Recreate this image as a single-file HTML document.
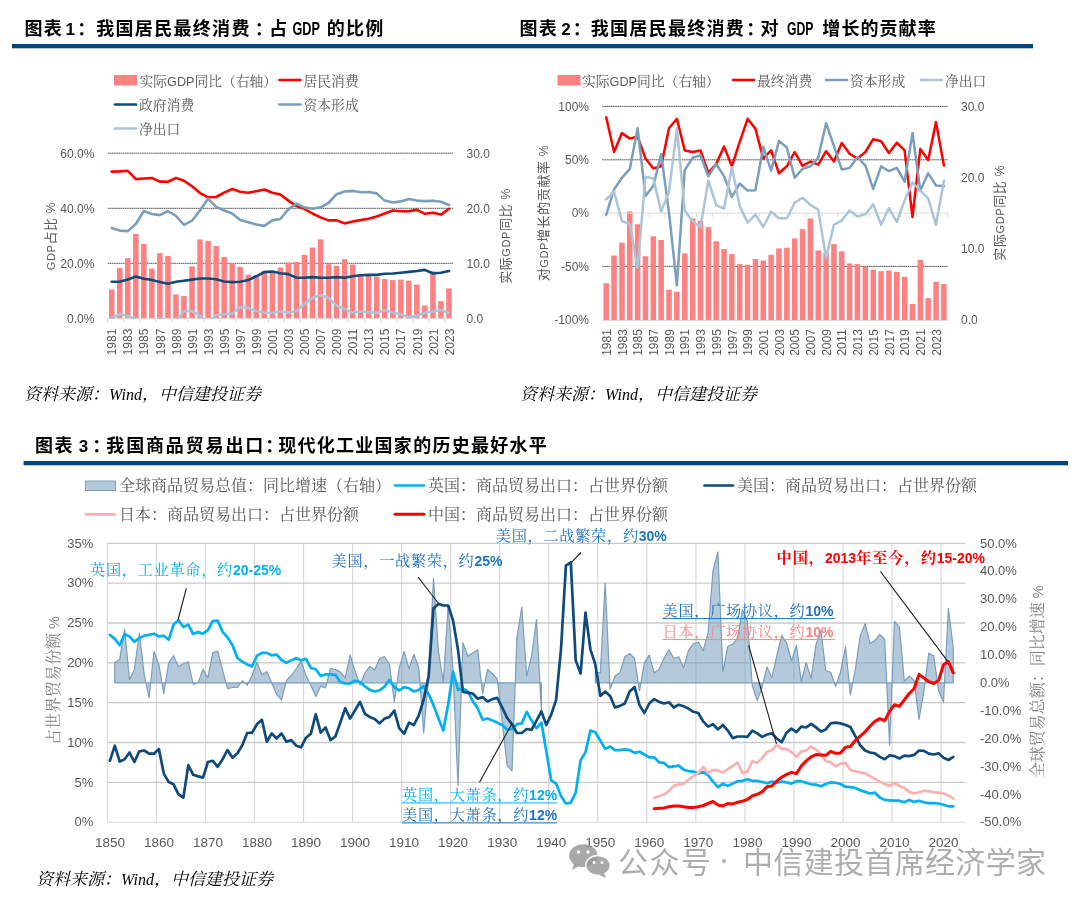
<!DOCTYPE html>
<html lang="zh-CN"><head><meta charset="utf-8"><title>图表</title>
<style>html,body{margin:0;padding:0;background:#fff;overflow:hidden;}svg{display:block;}</style></head>
<body><svg width="1080" height="905" viewBox="0 0 1080 905">
<rect width="1080" height="905" fill="#fff"/>
<text x="24.6" y="35.3" font-size="18" font-weight="bold" fill="#000" font-family="'Liberation Sans', 'Noto Sans CJK SC', sans-serif" textLength="37.2" lengthAdjust="spacing">图表</text>
<text x="65.6" y="35.3" font-size="17" font-weight="bold" fill="#000" font-family="'Liberation Sans', 'Noto Sans CJK SC', sans-serif">1</text>
<text x="77.3" y="35.3" font-size="18" font-weight="bold" fill="#000" font-family="'Liberation Sans', 'Noto Sans CJK SC', sans-serif">：</text>
<text x="96.2" y="35.3" font-size="18" font-weight="bold" fill="#000" font-family="'Liberation Sans', 'Noto Sans CJK SC', sans-serif" textLength="153.2" lengthAdjust="spacing">我国居民最终消费</text>
<text x="254.8" y="35.3" font-size="18" font-weight="bold" fill="#000" font-family="'Liberation Sans', 'Noto Sans CJK SC', sans-serif">：</text>
<text x="269.2" y="35.3" font-size="18" font-weight="bold" fill="#000" font-family="'Liberation Sans', 'Noto Sans CJK SC', sans-serif" textLength="17.8" lengthAdjust="spacing">占</text>
<text transform="translate(292.5,35.3) scale(0.686,1)" font-size="18.5" font-weight="bold" fill="#000" font-family="'Liberation Sans', 'Noto Sans CJK SC', sans-serif">GDP</text>
<text x="326.8" y="35.3" font-size="18" font-weight="bold" fill="#000" font-family="'Liberation Sans', 'Noto Sans CJK SC', sans-serif" textLength="56.4" lengthAdjust="spacing">的比例</text>
<text x="519.6" y="35.3" font-size="18" font-weight="bold" fill="#000" font-family="'Liberation Sans', 'Noto Sans CJK SC', sans-serif" textLength="37.2" lengthAdjust="spacing">图表</text>
<text x="561.2" y="35.3" font-size="17" font-weight="bold" fill="#000" font-family="'Liberation Sans', 'Noto Sans CJK SC', sans-serif">2</text>
<text x="572.8" y="35.3" font-size="18" font-weight="bold" fill="#000" font-family="'Liberation Sans', 'Noto Sans CJK SC', sans-serif">：</text>
<text x="590.8" y="35.3" font-size="18" font-weight="bold" fill="#000" font-family="'Liberation Sans', 'Noto Sans CJK SC', sans-serif" textLength="153.0" lengthAdjust="spacing">我国居民最终消费</text>
<text x="746.3" y="35.3" font-size="18" font-weight="bold" fill="#000" font-family="'Liberation Sans', 'Noto Sans CJK SC', sans-serif">：</text>
<text x="760.6" y="35.3" font-size="18" font-weight="bold" fill="#000" font-family="'Liberation Sans', 'Noto Sans CJK SC', sans-serif" textLength="18.4" lengthAdjust="spacing">对</text>
<text transform="translate(787.0,35.3) scale(0.661,1)" font-size="18.5" font-weight="bold" fill="#000" font-family="'Liberation Sans', 'Noto Sans CJK SC', sans-serif">GDP</text>
<text x="822.3" y="35.3" font-size="18" font-weight="bold" fill="#000" font-family="'Liberation Sans', 'Noto Sans CJK SC', sans-serif" textLength="113.4" lengthAdjust="spacing">增长的贡献率</text>
<text x="35.0" y="452.3" font-size="18" font-weight="bold" fill="#000" font-family="'Liberation Sans', 'Noto Sans CJK SC', sans-serif" textLength="37.4" lengthAdjust="spacing">图表</text>
<text x="78.8" y="452.3" font-size="17" font-weight="bold" fill="#000" font-family="'Liberation Sans', 'Noto Sans CJK SC', sans-serif">3</text>
<text x="92.3" y="452.3" font-size="18" font-weight="bold" fill="#000" font-family="'Liberation Sans', 'Noto Sans CJK SC', sans-serif">：</text>
<text x="106.3" y="452.3" font-size="18" font-weight="bold" fill="#000" font-family="'Liberation Sans', 'Noto Sans CJK SC', sans-serif" textLength="157.0" lengthAdjust="spacing">我国商品贸易出口</text>
<text x="265.3" y="452.3" font-size="18" font-weight="bold" fill="#000" font-family="'Liberation Sans', 'Noto Sans CJK SC', sans-serif">：</text>
<text x="278.3" y="452.3" font-size="18" font-weight="bold" fill="#000" font-family="'Liberation Sans', 'Noto Sans CJK SC', sans-serif" textLength="268.4" lengthAdjust="spacing">现代化工业国家的历史最好水平</text>
<rect x="12" y="44" width="1021" height="4.3" fill="#00467F"/>
<rect x="23.6" y="461" width="1044.4" height="4.3" fill="#00467F"/>
<text x="24" y="400" font-size="17" fill="#000" font-style="italic" font-family="'Liberation Serif', 'Noto Serif CJK SC', serif">资料来源：<tspan font-family="'Liberation Serif', serif" font-size="16">Wind</tspan>，中信建投证券</text>
<text x="520" y="400" font-size="17" fill="#000" font-style="italic" font-family="'Liberation Serif', 'Noto Serif CJK SC', serif">资料来源：<tspan font-family="'Liberation Serif', serif" font-size="16">Wind</tspan>，中信建投证券</text>
<text x="36" y="885" font-size="17" fill="#000" font-style="italic" font-family="'Liberation Serif', 'Noto Serif CJK SC', serif">资料来源：<tspan font-family="'Liberation Serif', serif" font-size="16">Wind</tspan>，中信建投证券</text>
<line x1="107.7" x2="453.0" y1="263.3" y2="263.3" stroke="#222" stroke-width="0.75" stroke-dasharray="1.7 0.45"/>
<line x1="107.7" x2="453.0" y1="208.3" y2="208.3" stroke="#222" stroke-width="0.75" stroke-dasharray="1.7 0.45"/>
<line x1="107.7" x2="453.0" y1="153.2" y2="153.2" stroke="#222" stroke-width="0.75" stroke-dasharray="1.7 0.45"/>
<rect x="109.0" y="289.5" width="5.5" height="29.1" fill="#FF8080"/>
<rect x="117.0" y="268.0" width="5.5" height="50.6" fill="#FF8080"/>
<rect x="125.0" y="258.1" width="5.5" height="60.5" fill="#FF8080"/>
<rect x="133.1" y="233.9" width="5.5" height="84.7" fill="#FF8080"/>
<rect x="141.1" y="243.8" width="5.5" height="74.8" fill="#FF8080"/>
<rect x="149.1" y="268.6" width="5.5" height="50.0" fill="#FF8080"/>
<rect x="157.1" y="253.1" width="5.5" height="65.5" fill="#FF8080"/>
<rect x="165.2" y="255.9" width="5.5" height="62.7" fill="#FF8080"/>
<rect x="173.2" y="294.4" width="5.5" height="24.2" fill="#FF8080"/>
<rect x="181.2" y="296.1" width="5.5" height="22.5" fill="#FF8080"/>
<rect x="189.3" y="266.4" width="5.5" height="52.2" fill="#FF8080"/>
<rect x="197.3" y="239.4" width="5.5" height="79.2" fill="#FF8080"/>
<rect x="205.3" y="241.0" width="5.5" height="77.6" fill="#FF8080"/>
<rect x="213.4" y="246.0" width="5.5" height="72.6" fill="#FF8080"/>
<rect x="221.4" y="257.0" width="5.5" height="61.6" fill="#FF8080"/>
<rect x="229.4" y="263.1" width="5.5" height="55.5" fill="#FF8080"/>
<rect x="237.4" y="266.9" width="5.5" height="51.7" fill="#FF8080"/>
<rect x="245.5" y="274.6" width="5.5" height="44.0" fill="#FF8080"/>
<rect x="253.5" y="275.2" width="5.5" height="43.4" fill="#FF8080"/>
<rect x="261.5" y="270.8" width="5.5" height="47.8" fill="#FF8080"/>
<rect x="269.6" y="271.9" width="5.5" height="46.7" fill="#FF8080"/>
<rect x="277.6" y="267.5" width="5.5" height="51.1" fill="#FF8080"/>
<rect x="285.6" y="262.5" width="5.5" height="56.1" fill="#FF8080"/>
<rect x="293.7" y="262.0" width="5.5" height="56.6" fill="#FF8080"/>
<rect x="301.7" y="254.8" width="5.5" height="63.8" fill="#FF8080"/>
<rect x="309.7" y="247.6" width="5.5" height="71.0" fill="#FF8080"/>
<rect x="317.8" y="239.4" width="5.5" height="79.2" fill="#FF8080"/>
<rect x="325.8" y="264.2" width="5.5" height="54.4" fill="#FF8080"/>
<rect x="333.8" y="265.8" width="5.5" height="52.8" fill="#FF8080"/>
<rect x="341.8" y="259.2" width="5.5" height="59.4" fill="#FF8080"/>
<rect x="349.9" y="264.7" width="5.5" height="53.9" fill="#FF8080"/>
<rect x="357.9" y="274.1" width="5.5" height="44.5" fill="#FF8080"/>
<rect x="365.9" y="274.6" width="5.5" height="44.0" fill="#FF8080"/>
<rect x="374.0" y="276.8" width="5.5" height="41.8" fill="#FF8080"/>
<rect x="382.0" y="279.0" width="5.5" height="39.6" fill="#FF8080"/>
<rect x="390.0" y="280.1" width="5.5" height="38.5" fill="#FF8080"/>
<rect x="398.1" y="279.6" width="5.5" height="39.0" fill="#FF8080"/>
<rect x="406.1" y="280.7" width="5.5" height="37.9" fill="#FF8080"/>
<rect x="414.1" y="284.5" width="5.5" height="34.1" fill="#FF8080"/>
<rect x="422.1" y="305.5" width="5.5" height="13.1" fill="#FF8080"/>
<rect x="430.2" y="271.3" width="5.5" height="47.3" fill="#FF8080"/>
<rect x="438.2" y="301.1" width="5.5" height="17.5" fill="#FF8080"/>
<rect x="446.2" y="288.4" width="5.5" height="30.2" fill="#FF8080"/>
<line x1="107.7" x2="453.0" y1="318.4" y2="318.4" stroke="#D9D9D9" stroke-width="1"/>
<line x1="107.7" x2="107.7" y1="318.4" y2="322.4" stroke="#D9D9D9" stroke-width="1"/>
<line x1="123.8" x2="123.8" y1="318.4" y2="322.4" stroke="#D9D9D9" stroke-width="1"/>
<line x1="139.8" x2="139.8" y1="318.4" y2="322.4" stroke="#D9D9D9" stroke-width="1"/>
<line x1="155.9" x2="155.9" y1="318.4" y2="322.4" stroke="#D9D9D9" stroke-width="1"/>
<line x1="171.9" x2="171.9" y1="318.4" y2="322.4" stroke="#D9D9D9" stroke-width="1"/>
<line x1="188.0" x2="188.0" y1="318.4" y2="322.4" stroke="#D9D9D9" stroke-width="1"/>
<line x1="204.1" x2="204.1" y1="318.4" y2="322.4" stroke="#D9D9D9" stroke-width="1"/>
<line x1="220.1" x2="220.1" y1="318.4" y2="322.4" stroke="#D9D9D9" stroke-width="1"/>
<line x1="236.2" x2="236.2" y1="318.4" y2="322.4" stroke="#D9D9D9" stroke-width="1"/>
<line x1="252.2" x2="252.2" y1="318.4" y2="322.4" stroke="#D9D9D9" stroke-width="1"/>
<line x1="268.3" x2="268.3" y1="318.4" y2="322.4" stroke="#D9D9D9" stroke-width="1"/>
<line x1="284.4" x2="284.4" y1="318.4" y2="322.4" stroke="#D9D9D9" stroke-width="1"/>
<line x1="300.4" x2="300.4" y1="318.4" y2="322.4" stroke="#D9D9D9" stroke-width="1"/>
<line x1="316.5" x2="316.5" y1="318.4" y2="322.4" stroke="#D9D9D9" stroke-width="1"/>
<line x1="332.5" x2="332.5" y1="318.4" y2="322.4" stroke="#D9D9D9" stroke-width="1"/>
<line x1="348.6" x2="348.6" y1="318.4" y2="322.4" stroke="#D9D9D9" stroke-width="1"/>
<line x1="364.7" x2="364.7" y1="318.4" y2="322.4" stroke="#D9D9D9" stroke-width="1"/>
<line x1="380.7" x2="380.7" y1="318.4" y2="322.4" stroke="#D9D9D9" stroke-width="1"/>
<line x1="396.8" x2="396.8" y1="318.4" y2="322.4" stroke="#D9D9D9" stroke-width="1"/>
<line x1="412.8" x2="412.8" y1="318.4" y2="322.4" stroke="#D9D9D9" stroke-width="1"/>
<line x1="428.9" x2="428.9" y1="318.4" y2="322.4" stroke="#D9D9D9" stroke-width="1"/>
<line x1="445.0" x2="445.0" y1="318.4" y2="322.4" stroke="#D9D9D9" stroke-width="1"/>
<clipPath id="cp1"><rect x="104.7" y="140" width="351.3" height="178.99999999999997"/></clipPath>
<g clip-path="url(#cp1)">
<polyline points="111.7,171.6 119.7,171.4 127.8,170.8 135.8,179.1 143.8,178.5 151.9,178.0 159.9,181.6 167.9,181.8 176.0,178.0 184.0,180.7 192.0,186.2 200.0,193.1 208.1,197.3 216.1,197.0 224.1,192.6 232.2,189.0 240.2,191.7 248.2,192.8 256.3,191.2 264.3,189.5 272.3,192.8 280.3,194.5 288.4,200.6 296.4,206.1 304.4,208.8 312.5,213.5 320.5,217.4 328.5,220.4 336.6,220.4 344.6,223.4 352.6,221.5 360.7,220.1 368.7,218.7 376.7,216.5 384.7,213.5 392.8,210.5 400.8,211.3 408.8,211.3 416.9,209.9 424.9,213.8 432.9,212.7 441.0,214.6 449.0,208.8" fill="none" stroke="#FF0000" stroke-width="2.6" stroke-linejoin="round" stroke-linecap="round" />
<polyline points="111.7,281.8 119.7,281.8 127.8,279.6 135.8,276.5 143.8,278.8 151.9,279.9 159.9,282.1 167.9,283.7 176.0,281.8 184.0,280.7 192.0,279.6 200.0,278.5 208.1,278.5 216.1,279.3 224.1,281.5 232.2,282.1 240.2,281.8 248.2,280.1 256.3,276.3 264.3,272.1 272.3,271.6 280.3,273.2 288.4,274.1 296.4,277.7 304.4,277.7 312.5,277.1 320.5,277.7 328.5,277.7 336.6,277.1 344.6,277.7 352.6,276.3 360.7,275.2 368.7,274.9 376.7,274.9 384.7,273.8 392.8,273.5 400.8,272.7 408.8,271.9 416.9,271.0 424.9,269.9 432.9,273.5 441.0,272.7 449.0,271.0" fill="none" stroke="#0E4A7A" stroke-width="2.6" stroke-linejoin="round" stroke-linecap="round" />
<polyline points="111.7,228.1 119.7,230.6 127.8,231.1 135.8,224.0 143.8,211.0 151.9,214.0 159.9,215.1 167.9,211.0 176.0,216.0 184.0,224.8 192.0,220.7 200.0,210.5 208.1,198.6 216.1,206.9 224.1,210.5 232.2,213.5 240.2,220.1 248.2,222.3 256.3,224.5 264.3,225.9 272.3,220.4 280.3,219.0 288.4,209.4 296.4,203.6 304.4,207.4 312.5,208.8 320.5,207.4 328.5,203.0 336.6,194.2 344.6,191.5 352.6,190.9 360.7,192.3 368.7,192.0 376.7,193.4 384.7,200.6 392.8,202.5 400.8,201.4 408.8,198.9 416.9,200.6 424.9,201.1 432.9,200.8 441.0,201.7 449.0,205.0" fill="none" stroke="#7B9EBB" stroke-width="2.6" stroke-linejoin="round" stroke-linecap="round" />
<polyline points="111.7,318.4 119.7,314.0 127.8,315.9 135.8,319.0 143.8,329.4 151.9,325.3 159.9,318.1 167.9,321.2 176.0,321.4 184.0,311.0 192.0,311.0 200.0,315.6 208.1,323.9 216.1,315.1 224.1,314.3 232.2,313.7 240.2,307.1 248.2,307.7 256.3,311.0 264.3,312.6 272.3,312.9 280.3,311.5 288.4,312.6 296.4,311.0 304.4,304.1 312.5,298.0 320.5,295.0 328.5,298.0 336.6,305.7 344.6,309.0 352.6,312.6 360.7,311.5 368.7,312.1 376.7,312.9 384.7,310.1 392.8,312.6 400.8,314.5 408.8,317.3 416.9,315.9 424.9,312.6 432.9,311.5 441.0,310.1 449.0,312.9" fill="none" stroke="#ABC5D8" stroke-width="2.6" stroke-linejoin="round" stroke-linecap="round" />
</g>
<text x="94.4" y="322.7" font-size="12" fill="#595959" text-anchor="end" font-family="'Liberation Sans', 'Noto Sans CJK SC', sans-serif" font-weight="normal" >0.0%</text>
<text x="94.4" y="267.6" font-size="12" fill="#595959" text-anchor="end" font-family="'Liberation Sans', 'Noto Sans CJK SC', sans-serif" font-weight="normal" >20.0%</text>
<text x="94.4" y="212.6" font-size="12" fill="#595959" text-anchor="end" font-family="'Liberation Sans', 'Noto Sans CJK SC', sans-serif" font-weight="normal" >40.0%</text>
<text x="94.4" y="157.5" font-size="12" fill="#595959" text-anchor="end" font-family="'Liberation Sans', 'Noto Sans CJK SC', sans-serif" font-weight="normal" >60.0%</text>
<text x="466.5" y="322.7" font-size="12" fill="#595959" text-anchor="start" font-family="'Liberation Sans', 'Noto Sans CJK SC', sans-serif" font-weight="normal" >0.0</text>
<text x="466.5" y="267.6" font-size="12" fill="#595959" text-anchor="start" font-family="'Liberation Sans', 'Noto Sans CJK SC', sans-serif" font-weight="normal" >10.0</text>
<text x="466.5" y="212.6" font-size="12" fill="#595959" text-anchor="start" font-family="'Liberation Sans', 'Noto Sans CJK SC', sans-serif" font-weight="normal" >20.0</text>
<text x="466.5" y="157.5" font-size="12" fill="#595959" text-anchor="start" font-family="'Liberation Sans', 'Noto Sans CJK SC', sans-serif" font-weight="normal" >30.0</text>
<text transform="translate(116.3,355.3) rotate(-90)" font-size="12.8" fill="#595959" text-anchor="start" font-family="'Liberation Sans', 'Noto Sans CJK SC', sans-serif" textLength="26.7" lengthAdjust="spacingAndGlyphs">1981</text>
<text transform="translate(132.4,355.3) rotate(-90)" font-size="12.8" fill="#595959" text-anchor="start" font-family="'Liberation Sans', 'Noto Sans CJK SC', sans-serif" textLength="26.7" lengthAdjust="spacingAndGlyphs">1983</text>
<text transform="translate(148.4,355.3) rotate(-90)" font-size="12.8" fill="#595959" text-anchor="start" font-family="'Liberation Sans', 'Noto Sans CJK SC', sans-serif" textLength="26.7" lengthAdjust="spacingAndGlyphs">1985</text>
<text transform="translate(164.5,355.3) rotate(-90)" font-size="12.8" fill="#595959" text-anchor="start" font-family="'Liberation Sans', 'Noto Sans CJK SC', sans-serif" textLength="26.7" lengthAdjust="spacingAndGlyphs">1987</text>
<text transform="translate(180.6,355.3) rotate(-90)" font-size="12.8" fill="#595959" text-anchor="start" font-family="'Liberation Sans', 'Noto Sans CJK SC', sans-serif" textLength="26.7" lengthAdjust="spacingAndGlyphs">1989</text>
<text transform="translate(196.6,355.3) rotate(-90)" font-size="12.8" fill="#595959" text-anchor="start" font-family="'Liberation Sans', 'Noto Sans CJK SC', sans-serif" textLength="26.7" lengthAdjust="spacingAndGlyphs">1991</text>
<text transform="translate(212.7,355.3) rotate(-90)" font-size="12.8" fill="#595959" text-anchor="start" font-family="'Liberation Sans', 'Noto Sans CJK SC', sans-serif" textLength="26.7" lengthAdjust="spacingAndGlyphs">1993</text>
<text transform="translate(228.7,355.3) rotate(-90)" font-size="12.8" fill="#595959" text-anchor="start" font-family="'Liberation Sans', 'Noto Sans CJK SC', sans-serif" textLength="26.7" lengthAdjust="spacingAndGlyphs">1995</text>
<text transform="translate(244.8,355.3) rotate(-90)" font-size="12.8" fill="#595959" text-anchor="start" font-family="'Liberation Sans', 'Noto Sans CJK SC', sans-serif" textLength="26.7" lengthAdjust="spacingAndGlyphs">1997</text>
<text transform="translate(260.9,355.3) rotate(-90)" font-size="12.8" fill="#595959" text-anchor="start" font-family="'Liberation Sans', 'Noto Sans CJK SC', sans-serif" textLength="26.7" lengthAdjust="spacingAndGlyphs">1999</text>
<text transform="translate(276.9,355.3) rotate(-90)" font-size="12.8" fill="#595959" text-anchor="start" font-family="'Liberation Sans', 'Noto Sans CJK SC', sans-serif" textLength="26.7" lengthAdjust="spacingAndGlyphs">2001</text>
<text transform="translate(293.0,355.3) rotate(-90)" font-size="12.8" fill="#595959" text-anchor="start" font-family="'Liberation Sans', 'Noto Sans CJK SC', sans-serif" textLength="26.7" lengthAdjust="spacingAndGlyphs">2003</text>
<text transform="translate(309.0,355.3) rotate(-90)" font-size="12.8" fill="#595959" text-anchor="start" font-family="'Liberation Sans', 'Noto Sans CJK SC', sans-serif" textLength="26.7" lengthAdjust="spacingAndGlyphs">2005</text>
<text transform="translate(325.1,355.3) rotate(-90)" font-size="12.8" fill="#595959" text-anchor="start" font-family="'Liberation Sans', 'Noto Sans CJK SC', sans-serif" textLength="26.7" lengthAdjust="spacingAndGlyphs">2007</text>
<text transform="translate(341.2,355.3) rotate(-90)" font-size="12.8" fill="#595959" text-anchor="start" font-family="'Liberation Sans', 'Noto Sans CJK SC', sans-serif" textLength="26.7" lengthAdjust="spacingAndGlyphs">2009</text>
<text transform="translate(357.2,355.3) rotate(-90)" font-size="12.8" fill="#595959" text-anchor="start" font-family="'Liberation Sans', 'Noto Sans CJK SC', sans-serif" textLength="26.7" lengthAdjust="spacingAndGlyphs">2011</text>
<text transform="translate(373.3,355.3) rotate(-90)" font-size="12.8" fill="#595959" text-anchor="start" font-family="'Liberation Sans', 'Noto Sans CJK SC', sans-serif" textLength="26.7" lengthAdjust="spacingAndGlyphs">2013</text>
<text transform="translate(389.3,355.3) rotate(-90)" font-size="12.8" fill="#595959" text-anchor="start" font-family="'Liberation Sans', 'Noto Sans CJK SC', sans-serif" textLength="26.7" lengthAdjust="spacingAndGlyphs">2015</text>
<text transform="translate(405.4,355.3) rotate(-90)" font-size="12.8" fill="#595959" text-anchor="start" font-family="'Liberation Sans', 'Noto Sans CJK SC', sans-serif" textLength="26.7" lengthAdjust="spacingAndGlyphs">2017</text>
<text transform="translate(421.5,355.3) rotate(-90)" font-size="12.8" fill="#595959" text-anchor="start" font-family="'Liberation Sans', 'Noto Sans CJK SC', sans-serif" textLength="26.7" lengthAdjust="spacingAndGlyphs">2019</text>
<text transform="translate(437.5,355.3) rotate(-90)" font-size="12.8" fill="#595959" text-anchor="start" font-family="'Liberation Sans', 'Noto Sans CJK SC', sans-serif" textLength="26.7" lengthAdjust="spacingAndGlyphs">2021</text>
<text transform="translate(453.6,355.3) rotate(-90)" font-size="12.8" fill="#595959" text-anchor="start" font-family="'Liberation Sans', 'Noto Sans CJK SC', sans-serif" textLength="26.7" lengthAdjust="spacingAndGlyphs">2023</text>
<text transform="translate(54.6,236.0) rotate(-90)" font-size="13" fill="#595959" text-anchor="middle" font-family="'Liberation Sans', 'Noto Sans CJK SC', sans-serif" letter-spacing="0.6"><tspan font-size="11">GDP</tspan>占比<tspan font-size="12.4"> %</tspan></text>
<text transform="translate(509.8,236.0) rotate(-90)" font-size="13" fill="#595959" text-anchor="middle" font-family="'Liberation Sans', 'Noto Sans CJK SC', sans-serif" letter-spacing="0.6">实际<tspan font-size="11">GDP</tspan>同比<tspan font-size="12.4"> %</tspan></text>
<rect x="114" y="75" width="23" height="10.5" fill="#FF8080"/>
<text x="139.5" y="85.7" font-size="13.8" fill="#595959" text-anchor="start" font-family="'Liberation Sans', 'Noto Serif CJK SC', serif" font-weight="normal" >实际<tspan font-size="12.6">GDP</tspan>同比（右轴）</text>
<line x1="279.5" x2="300.5" y1="80" y2="80" stroke="#FF0000" stroke-width="2.7" stroke-linecap="round"/>
<text x="303.5" y="85.7" font-size="13.8" fill="#595959" text-anchor="start" font-family="'Liberation Sans', 'Noto Serif CJK SC', serif" font-weight="normal" >居民消费</text>
<line x1="115" x2="136" y1="104.5" y2="104.5" stroke="#0E4A7A" stroke-width="2.7" stroke-linecap="round"/>
<text x="139.0" y="110.2" font-size="13.8" fill="#595959" text-anchor="start" font-family="'Liberation Sans', 'Noto Serif CJK SC', serif" font-weight="normal" >政府消费</text>
<line x1="279.5" x2="300.5" y1="104.5" y2="104.5" stroke="#7B9EBB" stroke-width="2.7" stroke-linecap="round"/>
<text x="303.5" y="110.2" font-size="13.8" fill="#595959" text-anchor="start" font-family="'Liberation Sans', 'Noto Serif CJK SC', serif" font-weight="normal" >资本形成</text>
<line x1="115" x2="136" y1="128.5" y2="128.5" stroke="#ABC5D8" stroke-width="2.7" stroke-linecap="round"/>
<text x="139.0" y="134.2" font-size="13.8" fill="#595959" text-anchor="start" font-family="'Liberation Sans', 'Noto Serif CJK SC', serif" font-weight="normal" >净出口</text>
<line x1="602.3" x2="947.8" y1="266.4" y2="266.4" stroke="#222" stroke-width="0.75" stroke-dasharray="1.7 0.45"/>
<line x1="602.3" x2="947.8" y1="159.8" y2="159.8" stroke="#222" stroke-width="0.75" stroke-dasharray="1.7 0.45"/>
<line x1="602.3" x2="947.8" y1="106.4" y2="106.4" stroke="#222" stroke-width="0.75" stroke-dasharray="1.7 0.45"/>
<rect x="603.5" y="283.3" width="5.5" height="37.1" fill="#FF8080"/>
<rect x="611.3" y="255.5" width="5.5" height="64.9" fill="#FF8080"/>
<rect x="619.2" y="242.7" width="5.5" height="77.7" fill="#FF8080"/>
<rect x="627.0" y="211.4" width="5.5" height="109.0" fill="#FF8080"/>
<rect x="634.9" y="224.2" width="5.5" height="96.2" fill="#FF8080"/>
<rect x="642.7" y="256.2" width="5.5" height="64.2" fill="#FF8080"/>
<rect x="650.6" y="236.3" width="5.5" height="84.1" fill="#FF8080"/>
<rect x="658.4" y="239.9" width="5.5" height="80.5" fill="#FF8080"/>
<rect x="666.3" y="289.7" width="5.5" height="30.7" fill="#FF8080"/>
<rect x="674.1" y="291.8" width="5.5" height="28.6" fill="#FF8080"/>
<rect x="682.0" y="253.4" width="5.5" height="67.0" fill="#FF8080"/>
<rect x="689.9" y="218.5" width="5.5" height="101.9" fill="#FF8080"/>
<rect x="697.7" y="220.7" width="5.5" height="99.7" fill="#FF8080"/>
<rect x="705.6" y="227.1" width="5.5" height="93.3" fill="#FF8080"/>
<rect x="713.4" y="241.3" width="5.5" height="79.1" fill="#FF8080"/>
<rect x="721.3" y="249.1" width="5.5" height="71.3" fill="#FF8080"/>
<rect x="729.1" y="254.1" width="5.5" height="66.3" fill="#FF8080"/>
<rect x="737.0" y="264.1" width="5.5" height="56.3" fill="#FF8080"/>
<rect x="744.8" y="264.8" width="5.5" height="55.6" fill="#FF8080"/>
<rect x="752.7" y="259.1" width="5.5" height="61.3" fill="#FF8080"/>
<rect x="760.5" y="260.5" width="5.5" height="59.9" fill="#FF8080"/>
<rect x="768.4" y="254.8" width="5.5" height="65.6" fill="#FF8080"/>
<rect x="776.2" y="248.4" width="5.5" height="72.0" fill="#FF8080"/>
<rect x="784.1" y="247.7" width="5.5" height="72.7" fill="#FF8080"/>
<rect x="791.9" y="238.5" width="5.5" height="81.9" fill="#FF8080"/>
<rect x="799.8" y="229.2" width="5.5" height="91.2" fill="#FF8080"/>
<rect x="807.6" y="218.5" width="5.5" height="101.9" fill="#FF8080"/>
<rect x="815.5" y="250.5" width="5.5" height="69.9" fill="#FF8080"/>
<rect x="823.3" y="252.7" width="5.5" height="67.7" fill="#FF8080"/>
<rect x="831.2" y="244.1" width="5.5" height="76.3" fill="#FF8080"/>
<rect x="839.0" y="251.3" width="5.5" height="69.1" fill="#FF8080"/>
<rect x="846.9" y="263.4" width="5.5" height="57.0" fill="#FF8080"/>
<rect x="854.7" y="264.1" width="5.5" height="56.3" fill="#FF8080"/>
<rect x="862.6" y="266.9" width="5.5" height="53.5" fill="#FF8080"/>
<rect x="870.5" y="269.8" width="5.5" height="50.6" fill="#FF8080"/>
<rect x="878.3" y="271.2" width="5.5" height="49.2" fill="#FF8080"/>
<rect x="886.2" y="270.5" width="5.5" height="49.9" fill="#FF8080"/>
<rect x="894.0" y="271.9" width="5.5" height="48.5" fill="#FF8080"/>
<rect x="901.9" y="276.9" width="5.5" height="43.5" fill="#FF8080"/>
<rect x="909.7" y="303.9" width="5.5" height="16.5" fill="#FF8080"/>
<rect x="917.6" y="259.8" width="5.5" height="60.6" fill="#FF8080"/>
<rect x="925.4" y="298.2" width="5.5" height="22.2" fill="#FF8080"/>
<rect x="933.3" y="281.8" width="5.5" height="38.6" fill="#FF8080"/>
<rect x="941.1" y="284.0" width="5.5" height="36.4" fill="#FF8080"/>
<line x1="602.3" x2="947.8" y1="320.40000000000003" y2="320.40000000000003" stroke="#D9D9D9" stroke-width="1"/>
<line x1="602.3" x2="947.8" y1="213.1" y2="213.1" stroke="#D9D9D9" stroke-width="1"/>
<line x1="602.3" x2="602.3" y1="213.1" y2="217.1" stroke="#D9D9D9" stroke-width="1"/>
<line x1="618.0" x2="618.0" y1="213.1" y2="217.1" stroke="#D9D9D9" stroke-width="1"/>
<line x1="633.7" x2="633.7" y1="213.1" y2="217.1" stroke="#D9D9D9" stroke-width="1"/>
<line x1="649.4" x2="649.4" y1="213.1" y2="217.1" stroke="#D9D9D9" stroke-width="1"/>
<line x1="665.1" x2="665.1" y1="213.1" y2="217.1" stroke="#D9D9D9" stroke-width="1"/>
<line x1="680.8" x2="680.8" y1="213.1" y2="217.1" stroke="#D9D9D9" stroke-width="1"/>
<line x1="696.5" x2="696.5" y1="213.1" y2="217.1" stroke="#D9D9D9" stroke-width="1"/>
<line x1="712.2" x2="712.2" y1="213.1" y2="217.1" stroke="#D9D9D9" stroke-width="1"/>
<line x1="727.9" x2="727.9" y1="213.1" y2="217.1" stroke="#D9D9D9" stroke-width="1"/>
<line x1="743.6" x2="743.6" y1="213.1" y2="217.1" stroke="#D9D9D9" stroke-width="1"/>
<line x1="759.3" x2="759.3" y1="213.1" y2="217.1" stroke="#D9D9D9" stroke-width="1"/>
<line x1="775.0" x2="775.0" y1="213.1" y2="217.1" stroke="#D9D9D9" stroke-width="1"/>
<line x1="790.8" x2="790.8" y1="213.1" y2="217.1" stroke="#D9D9D9" stroke-width="1"/>
<line x1="806.5" x2="806.5" y1="213.1" y2="217.1" stroke="#D9D9D9" stroke-width="1"/>
<line x1="822.2" x2="822.2" y1="213.1" y2="217.1" stroke="#D9D9D9" stroke-width="1"/>
<line x1="837.9" x2="837.9" y1="213.1" y2="217.1" stroke="#D9D9D9" stroke-width="1"/>
<line x1="853.6" x2="853.6" y1="213.1" y2="217.1" stroke="#D9D9D9" stroke-width="1"/>
<line x1="869.3" x2="869.3" y1="213.1" y2="217.1" stroke="#D9D9D9" stroke-width="1"/>
<line x1="885.0" x2="885.0" y1="213.1" y2="217.1" stroke="#D9D9D9" stroke-width="1"/>
<line x1="900.7" x2="900.7" y1="213.1" y2="217.1" stroke="#D9D9D9" stroke-width="1"/>
<line x1="916.4" x2="916.4" y1="213.1" y2="217.1" stroke="#D9D9D9" stroke-width="1"/>
<line x1="932.1" x2="932.1" y1="213.1" y2="217.1" stroke="#D9D9D9" stroke-width="1"/>
<line x1="947.8" x2="947.8" y1="213.1" y2="217.1" stroke="#D9D9D9" stroke-width="1"/>
<polyline points="606.2,117.2 614.1,152.0 621.9,133.1 629.8,138.6 637.6,136.5 645.5,158.6 653.3,168.5 661.2,166.3 669.0,128.3 676.9,118.8 684.7,150.4 692.6,152.0 700.5,150.4 708.3,172.9 716.2,164.0 724.0,146.4 731.9,166.3 739.7,141.9 747.6,118.8 755.4,128.7 763.3,158.6 771.1,150.4 779.0,173.3 786.8,166.3 794.7,152.0 802.5,165.8 810.4,161.5 818.2,164.6 826.1,151.2 833.9,161.5 841.8,143.1 849.6,153.7 857.5,158.6 865.4,152.0 873.2,139.1 881.1,141.3 888.9,153.0 896.8,142.7 904.6,150.4 912.5,217.0 920.3,149.1 928.2,160.1 936.0,122.1 943.9,165.6" fill="none" stroke="#FF0000" stroke-width="2.5" stroke-linejoin="round" stroke-linecap="round" />
<polyline points="606.2,214.9 614.1,189.4 621.9,177.8 629.8,168.9 637.6,128.3 645.5,196.1 653.3,186.1 661.2,154.1 669.0,212.6 676.9,285.5 684.7,170.2 692.6,157.8 700.5,155.3 708.3,176.2 716.2,164.0 724.0,176.2 731.9,196.8 739.7,183.5 747.6,190.6 755.4,190.2 763.3,146.8 771.1,170.6 779.0,140.9 786.8,147.5 794.7,177.8 802.5,168.9 810.4,166.3 818.2,157.8 826.1,123.2 833.9,145.9 841.8,169.6 849.6,167.9 857.5,157.0 865.4,165.6 873.2,188.8 881.1,166.3 888.9,171.2 896.8,167.9 904.6,181.7 912.5,133.1 920.3,190.6 928.2,173.3 936.0,185.5 943.9,186.1" fill="none" stroke="#7B9EBB" stroke-width="2.5" stroke-linejoin="round" stroke-linecap="round" />
<polyline points="606.2,199.4 614.1,191.7 621.9,221.1 629.8,224.2 637.6,267.8 645.5,176.8 653.3,178.4 661.2,211.6 669.0,191.8 676.9,128.3 684.7,210.4 692.6,221.5 700.5,227.0 708.3,180.7 716.2,205.2 724.0,208.7 731.9,167.3 739.7,206.1 747.6,222.6 755.4,214.4 763.3,227.0 771.1,211.6 779.0,218.2 786.8,218.2 794.7,202.8 802.5,197.8 810.4,204.9 818.2,209.8 826.1,257.9 833.9,224.8 841.8,220.4 849.6,210.4 857.5,216.4 865.4,214.4 873.2,204.2 881.1,224.8 888.9,208.2 896.8,222.0 904.6,200.5 912.5,182.4 920.3,190.6 928.2,198.3 936.0,224.8 943.9,180.7" fill="none" stroke="#ABC5D8" stroke-width="2.5" stroke-linejoin="round" stroke-linecap="round" />
<text x="589.0" y="324.1" font-size="12" fill="#595959" text-anchor="end" font-family="'Liberation Sans', 'Noto Sans CJK SC', sans-serif" font-weight="normal" >-100%</text>
<text x="589.0" y="270.8" font-size="12" fill="#595959" text-anchor="end" font-family="'Liberation Sans', 'Noto Sans CJK SC', sans-serif" font-weight="normal" >-50%</text>
<text x="589.0" y="217.4" font-size="12" fill="#595959" text-anchor="end" font-family="'Liberation Sans', 'Noto Sans CJK SC', sans-serif" font-weight="normal" >0%</text>
<text x="589.0" y="164.1" font-size="12" fill="#595959" text-anchor="end" font-family="'Liberation Sans', 'Noto Sans CJK SC', sans-serif" font-weight="normal" >50%</text>
<text x="589.0" y="110.7" font-size="12" fill="#595959" text-anchor="end" font-family="'Liberation Sans', 'Noto Sans CJK SC', sans-serif" font-weight="normal" >100%</text>
<text x="961.0" y="324.1" font-size="12" fill="#595959" text-anchor="start" font-family="'Liberation Sans', 'Noto Sans CJK SC', sans-serif" font-weight="normal" >0.0</text>
<text x="961.0" y="253.0" font-size="12" fill="#595959" text-anchor="start" font-family="'Liberation Sans', 'Noto Sans CJK SC', sans-serif" font-weight="normal" >10.0</text>
<text x="961.0" y="181.8" font-size="12" fill="#595959" text-anchor="start" font-family="'Liberation Sans', 'Noto Sans CJK SC', sans-serif" font-weight="normal" >20.0</text>
<text x="961.0" y="110.7" font-size="12" fill="#595959" text-anchor="start" font-family="'Liberation Sans', 'Noto Sans CJK SC', sans-serif" font-weight="normal" >30.0</text>
<text transform="translate(610.8,355.8) rotate(-90)" font-size="12.8" fill="#595959" text-anchor="start" font-family="'Liberation Sans', 'Noto Sans CJK SC', sans-serif" textLength="26.7" lengthAdjust="spacingAndGlyphs">1981</text>
<text transform="translate(626.5,355.8) rotate(-90)" font-size="12.8" fill="#595959" text-anchor="start" font-family="'Liberation Sans', 'Noto Sans CJK SC', sans-serif" textLength="26.7" lengthAdjust="spacingAndGlyphs">1983</text>
<text transform="translate(642.2,355.8) rotate(-90)" font-size="12.8" fill="#595959" text-anchor="start" font-family="'Liberation Sans', 'Noto Sans CJK SC', sans-serif" textLength="26.7" lengthAdjust="spacingAndGlyphs">1985</text>
<text transform="translate(657.9,355.8) rotate(-90)" font-size="12.8" fill="#595959" text-anchor="start" font-family="'Liberation Sans', 'Noto Sans CJK SC', sans-serif" textLength="26.7" lengthAdjust="spacingAndGlyphs">1987</text>
<text transform="translate(673.6,355.8) rotate(-90)" font-size="12.8" fill="#595959" text-anchor="start" font-family="'Liberation Sans', 'Noto Sans CJK SC', sans-serif" textLength="26.7" lengthAdjust="spacingAndGlyphs">1989</text>
<text transform="translate(689.3,355.8) rotate(-90)" font-size="12.8" fill="#595959" text-anchor="start" font-family="'Liberation Sans', 'Noto Sans CJK SC', sans-serif" textLength="26.7" lengthAdjust="spacingAndGlyphs">1991</text>
<text transform="translate(705.1,355.8) rotate(-90)" font-size="12.8" fill="#595959" text-anchor="start" font-family="'Liberation Sans', 'Noto Sans CJK SC', sans-serif" textLength="26.7" lengthAdjust="spacingAndGlyphs">1993</text>
<text transform="translate(720.8,355.8) rotate(-90)" font-size="12.8" fill="#595959" text-anchor="start" font-family="'Liberation Sans', 'Noto Sans CJK SC', sans-serif" textLength="26.7" lengthAdjust="spacingAndGlyphs">1995</text>
<text transform="translate(736.5,355.8) rotate(-90)" font-size="12.8" fill="#595959" text-anchor="start" font-family="'Liberation Sans', 'Noto Sans CJK SC', sans-serif" textLength="26.7" lengthAdjust="spacingAndGlyphs">1997</text>
<text transform="translate(752.2,355.8) rotate(-90)" font-size="12.8" fill="#595959" text-anchor="start" font-family="'Liberation Sans', 'Noto Sans CJK SC', sans-serif" textLength="26.7" lengthAdjust="spacingAndGlyphs">1999</text>
<text transform="translate(767.9,355.8) rotate(-90)" font-size="12.8" fill="#595959" text-anchor="start" font-family="'Liberation Sans', 'Noto Sans CJK SC', sans-serif" textLength="26.7" lengthAdjust="spacingAndGlyphs">2001</text>
<text transform="translate(783.6,355.8) rotate(-90)" font-size="12.8" fill="#595959" text-anchor="start" font-family="'Liberation Sans', 'Noto Sans CJK SC', sans-serif" textLength="26.7" lengthAdjust="spacingAndGlyphs">2003</text>
<text transform="translate(799.3,355.8) rotate(-90)" font-size="12.8" fill="#595959" text-anchor="start" font-family="'Liberation Sans', 'Noto Sans CJK SC', sans-serif" textLength="26.7" lengthAdjust="spacingAndGlyphs">2005</text>
<text transform="translate(815.0,355.8) rotate(-90)" font-size="12.8" fill="#595959" text-anchor="start" font-family="'Liberation Sans', 'Noto Sans CJK SC', sans-serif" textLength="26.7" lengthAdjust="spacingAndGlyphs">2007</text>
<text transform="translate(830.7,355.8) rotate(-90)" font-size="12.8" fill="#595959" text-anchor="start" font-family="'Liberation Sans', 'Noto Sans CJK SC', sans-serif" textLength="26.7" lengthAdjust="spacingAndGlyphs">2009</text>
<text transform="translate(846.4,355.8) rotate(-90)" font-size="12.8" fill="#595959" text-anchor="start" font-family="'Liberation Sans', 'Noto Sans CJK SC', sans-serif" textLength="26.7" lengthAdjust="spacingAndGlyphs">2011</text>
<text transform="translate(862.1,355.8) rotate(-90)" font-size="12.8" fill="#595959" text-anchor="start" font-family="'Liberation Sans', 'Noto Sans CJK SC', sans-serif" textLength="26.7" lengthAdjust="spacingAndGlyphs">2013</text>
<text transform="translate(877.8,355.8) rotate(-90)" font-size="12.8" fill="#595959" text-anchor="start" font-family="'Liberation Sans', 'Noto Sans CJK SC', sans-serif" textLength="26.7" lengthAdjust="spacingAndGlyphs">2015</text>
<text transform="translate(893.5,355.8) rotate(-90)" font-size="12.8" fill="#595959" text-anchor="start" font-family="'Liberation Sans', 'Noto Sans CJK SC', sans-serif" textLength="26.7" lengthAdjust="spacingAndGlyphs">2017</text>
<text transform="translate(909.2,355.8) rotate(-90)" font-size="12.8" fill="#595959" text-anchor="start" font-family="'Liberation Sans', 'Noto Sans CJK SC', sans-serif" textLength="26.7" lengthAdjust="spacingAndGlyphs">2019</text>
<text transform="translate(924.9,355.8) rotate(-90)" font-size="12.8" fill="#595959" text-anchor="start" font-family="'Liberation Sans', 'Noto Sans CJK SC', sans-serif" textLength="26.7" lengthAdjust="spacingAndGlyphs">2021</text>
<text transform="translate(940.6,355.8) rotate(-90)" font-size="12.8" fill="#595959" text-anchor="start" font-family="'Liberation Sans', 'Noto Sans CJK SC', sans-serif" textLength="26.7" lengthAdjust="spacingAndGlyphs">2023</text>
<text transform="translate(548.3,213.0) rotate(-90)" font-size="13" fill="#595959" text-anchor="middle" font-family="'Liberation Sans', 'Noto Sans CJK SC', sans-serif" letter-spacing="0.6">对<tspan font-size="11">GDP</tspan>增长的贡献率<tspan font-size="12.4"> %</tspan></text>
<text transform="translate(1003.8,212.8) rotate(-90)" font-size="13" fill="#595959" text-anchor="middle" font-family="'Liberation Sans', 'Noto Sans CJK SC', sans-serif" letter-spacing="0.6">实际<tspan font-size="11">GDP</tspan>同比<tspan font-size="12.4"> %</tspan></text>
<rect x="557.5" y="75" width="23" height="10.5" fill="#FF8080"/>
<text x="582.0" y="85.7" font-size="13.8" fill="#595959" text-anchor="start" font-family="'Liberation Sans', 'Noto Serif CJK SC', serif" font-weight="normal" >实际<tspan font-size="12.6">GDP</tspan>同比（右轴）</text>
<line x1="733" x2="754" y1="80" y2="80" stroke="#FF0000" stroke-width="2.7" stroke-linecap="round"/>
<text x="757.0" y="85.7" font-size="13.8" fill="#595959" text-anchor="start" font-family="'Liberation Sans', 'Noto Serif CJK SC', serif" font-weight="normal" >最终消费</text>
<line x1="826" x2="847" y1="80" y2="80" stroke="#7B9EBB" stroke-width="2.7" stroke-linecap="round"/>
<text x="850.0" y="85.7" font-size="13.8" fill="#595959" text-anchor="start" font-family="'Liberation Sans', 'Noto Serif CJK SC', serif" font-weight="normal" >资本形成</text>
<line x1="921" x2="942" y1="80" y2="80" stroke="#ABC5D8" stroke-width="2.7" stroke-linecap="round"/>
<text x="945.0" y="85.7" font-size="13.8" fill="#595959" text-anchor="start" font-family="'Liberation Sans', 'Noto Serif CJK SC', serif" font-weight="normal" >净出口</text>
<line x1="107.4" x2="107.4" y1="543.3" y2="822.2" stroke="#DADADA" stroke-width="1.2"/>
<line x1="156.4" x2="156.4" y1="543.3" y2="822.2" stroke="#DADADA" stroke-width="1.2"/>
<line x1="205.5" x2="205.5" y1="543.3" y2="822.2" stroke="#DADADA" stroke-width="1.2"/>
<line x1="254.5" x2="254.5" y1="543.3" y2="822.2" stroke="#DADADA" stroke-width="1.2"/>
<line x1="303.6" x2="303.6" y1="543.3" y2="822.2" stroke="#DADADA" stroke-width="1.2"/>
<line x1="352.6" x2="352.6" y1="543.3" y2="822.2" stroke="#DADADA" stroke-width="1.2"/>
<line x1="401.6" x2="401.6" y1="543.3" y2="822.2" stroke="#DADADA" stroke-width="1.2"/>
<line x1="450.7" x2="450.7" y1="543.3" y2="822.2" stroke="#DADADA" stroke-width="1.2"/>
<line x1="499.7" x2="499.7" y1="543.3" y2="822.2" stroke="#DADADA" stroke-width="1.2"/>
<line x1="548.8" x2="548.8" y1="543.3" y2="822.2" stroke="#DADADA" stroke-width="1.2"/>
<line x1="597.8" x2="597.8" y1="543.3" y2="822.2" stroke="#DADADA" stroke-width="1.2"/>
<line x1="646.8" x2="646.8" y1="543.3" y2="822.2" stroke="#DADADA" stroke-width="1.2"/>
<line x1="695.9" x2="695.9" y1="543.3" y2="822.2" stroke="#DADADA" stroke-width="1.2"/>
<line x1="744.9" x2="744.9" y1="543.3" y2="822.2" stroke="#DADADA" stroke-width="1.2"/>
<line x1="794.0" x2="794.0" y1="543.3" y2="822.2" stroke="#DADADA" stroke-width="1.2"/>
<line x1="843.0" x2="843.0" y1="543.3" y2="822.2" stroke="#DADADA" stroke-width="1.2"/>
<line x1="892.0" x2="892.0" y1="543.3" y2="822.2" stroke="#DADADA" stroke-width="1.2"/>
<line x1="941.1" x2="941.1" y1="543.3" y2="822.2" stroke="#DADADA" stroke-width="1.2"/>
<line x1="107.4" x2="965.3" y1="782.4" y2="782.4" stroke="#CACACA" stroke-width="1.3"/>
<line x1="107.4" x2="965.3" y1="742.5" y2="742.5" stroke="#CACACA" stroke-width="1.3"/>
<line x1="107.4" x2="965.3" y1="702.7" y2="702.7" stroke="#CACACA" stroke-width="1.3"/>
<line x1="107.4" x2="965.3" y1="662.8" y2="662.8" stroke="#CACACA" stroke-width="1.3"/>
<line x1="107.4" x2="965.3" y1="623.0" y2="623.0" stroke="#CACACA" stroke-width="1.3"/>
<line x1="107.4" x2="965.3" y1="583.1" y2="583.1" stroke="#CACACA" stroke-width="1.3"/>
<line x1="107.4" x2="965.3" y1="543.3" y2="543.3" stroke="#CACACA" stroke-width="1.3"/>
<line x1="107.4" x2="965.3" y1="822.2" y2="822.2" stroke="#D9D9D9" stroke-width="1"/>
<polygon points="114.8,682.8 114.8,662.4 119.7,659.6 124.6,628.9 129.5,679.7 134.4,669.4 139.3,633.1 144.2,674.4 149.1,697.5 154.0,651.5 158.9,664.6 163.8,693.6 168.7,662.9 173.6,655.7 178.5,667.1 183.4,663.8 188.3,661.8 193.2,684.4 198.1,682.8 203.0,669.4 207.9,677.7 212.8,652.6 217.7,651.2 222.6,670.2 227.5,688.6 232.5,687.5 237.4,687.5 242.3,680.8 247.2,685.0 252.1,675.5 257.0,662.1 261.9,674.9 266.8,671.6 271.7,682.8 276.6,694.2 281.5,700.0 286.4,680.5 291.3,675.5 296.2,668.8 301.1,661.0 306.0,675.5 310.9,685.4 315.8,696.4 320.7,686.2 325.6,687.9 330.5,668.5 335.4,669.6 340.3,671.9 345.2,678.0 350.1,654.9 355.1,671.3 360.0,685.0 364.9,673.0 369.8,666.3 374.7,669.9 379.6,658.5 384.5,656.5 389.4,664.2 394.3,701.7 399.2,667.8 404.1,651.5 409.0,668.7 413.9,654.3 418.8,667.8 423.7,733.0 428.6,677.2 433.5,578.4 438.4,651.2 443.3,681.9 448.2,605.8 453.1,671.6 458.0,785.4 462.9,642.6 467.8,656.3 472.7,652.9 477.7,649.8 482.6,693.6 487.5,669.5 492.4,673.5 497.3,679.1 502.2,721.5 507.1,765.3 512.0,770.9 516.9,638.1 521.8,607.2 526.7,676.1 531.6,656.0 536.5,619.7 541.4,711.5 541.4,682.8" fill="#6F97B8" fill-opacity="0.52" stroke="#7B9EBC" stroke-width="1.2" stroke-linejoin="round"/>
<polygon points="595.3,682.8 595.3,672.7 600.3,672.7 605.2,583.2 610.1,689.2 615.0,676.1 619.9,672.7 624.8,656.8 629.7,653.5 634.6,658.5 639.5,690.8 644.4,662.7 649.3,655.1 654.2,673.0 659.1,669.1 664.0,658.5 668.9,649.6 673.8,658.5 678.7,656.8 683.6,667.7 688.5,650.4 693.4,643.7 698.3,642.0 703.2,650.7 708.1,632.8 713.0,570.6 717.9,551.9 722.9,671.9 727.8,646.2 732.7,644.3 737.6,637.8 742.5,609.7 747.4,621.4 752.3,685.5 757.2,700.6 762.1,687.5 767.0,666.9 771.9,677.7 776.8,656.0 781.7,635.3 786.6,642.9 791.5,661.0 796.4,645.4 801.3,681.6 806.2,662.7 811.1,678.6 816.0,644.8 820.9,630.6 825.8,670.5 830.7,672.2 835.6,686.4 840.5,672.2 845.5,646.6 850.4,695.0 855.3,669.6 860.2,635.9 865.1,623.6 870.0,643.4 874.9,640.4 879.8,634.5 884.7,639.5 889.6,745.2 894.5,621.5 899.4,627.2 904.3,681.1 909.2,676.3 914.1,680.2 919.0,719.3 923.9,691.4 928.8,653.2 933.7,655.8 938.6,690.6 943.5,702.0 948.4,608.6 953.3,648.4 953.3,682.8" fill="#6F97B8" fill-opacity="0.52" stroke="#7B9EBC" stroke-width="1.2" stroke-linejoin="round"/>
<polyline points="109.9,634.9 114.8,638.9 119.7,645.3 124.6,634.1 129.5,636.5 134.4,641.7 139.3,638.1 144.2,635.7 149.1,634.9 154.0,633.7 158.9,636.5 163.8,635.7 168.7,639.7 173.6,624.6 178.5,620.2 183.4,627.0 188.3,624.6 193.2,634.1 198.1,632.1 203.0,633.7 207.9,630.2 212.8,621.0 217.7,620.6 222.6,631.8 227.5,637.3 232.5,645.3 237.4,658.0 242.3,661.6 247.2,664.4 252.1,666.4 257.0,655.7 261.9,652.9 266.8,652.9 271.7,655.3 276.6,654.5 281.5,660.0 286.4,662.8 291.3,660.4 296.2,658.0 301.1,660.4 306.0,658.8 310.9,668.0 315.8,669.2 320.7,676.0 325.6,674.4 330.5,674.4 335.4,674.8 340.3,682.0 345.2,683.5 350.1,683.5 355.1,680.8 360.0,682.0 364.9,686.3 369.8,689.9 374.7,691.5 379.6,690.3 384.5,686.7 389.4,680.0 394.3,687.1 399.2,690.3 404.1,687.1 409.0,688.3 413.9,691.5 418.8,689.9 423.7,686.3 428.6,693.9 433.5,705.1 438.4,718.2 443.3,730.6 448.2,704.3 453.1,671.6 458.0,689.9 462.9,688.3 467.8,691.5 472.7,701.1 477.7,708.2 482.6,719.8 487.5,718.6 492.4,720.6 497.3,722.6 502.2,725.0 507.1,729.4 512.0,729.0 516.9,724.2 521.8,723.4 526.7,711.8 531.6,720.6 536.5,728.2 541.4,722.6 546.3,751.3 551.2,780.4 556.1,783.6 561.0,795.9 565.9,803.5 570.8,802.7 575.7,792.7 580.6,760.4 585.5,752.1 590.4,730.6 595.3,732.2 600.3,740.5 605.2,748.9 610.1,746.5 615.0,750.1 619.9,750.1 624.8,749.3 629.7,750.1 634.6,752.9 639.5,751.7 644.4,754.5 649.3,757.3 654.2,757.3 659.1,762.4 664.0,762.8 668.9,767.2 673.8,766.4 678.7,765.6 683.6,769.6 688.5,771.2 693.4,771.6 698.3,773.6 703.2,772.0 708.1,775.2 713.0,781.6 717.9,787.1 722.9,783.6 727.8,785.9 732.7,783.6 737.6,781.2 742.5,780.8 747.4,779.2 752.3,780.8 757.2,780.8 762.1,782.0 767.0,783.2 771.9,781.6 776.8,782.8 781.7,781.6 786.6,782.4 791.5,783.6 796.4,781.2 801.3,781.2 806.2,782.8 811.1,784.3 816.0,784.7 820.9,786.3 825.8,784.0 830.7,782.4 835.6,782.8 840.5,784.0 845.5,786.7 850.4,787.1 855.3,787.9 860.2,790.3 865.1,791.9 870.0,793.5 874.9,792.7 879.8,797.5 884.7,799.9 889.6,800.3 894.5,800.7 899.4,800.7 904.3,802.3 909.2,799.9 914.1,801.9 919.0,800.7 923.9,802.3 928.8,803.1 933.7,803.1 938.6,803.5 943.5,804.7 948.4,806.3 953.3,806.3" fill="none" stroke="#00B0F0" stroke-width="2.7" stroke-linejoin="round" stroke-linecap="round" />
<polyline points="109.9,760.8 114.8,745.7 119.7,761.6 124.6,759.2 129.5,752.5 134.4,762.0 139.3,751.3 144.2,750.5 149.1,753.7 154.0,753.7 158.9,748.9 163.8,773.6 168.7,782.0 173.6,784.3 178.5,794.3 183.4,797.5 188.3,765.2 193.2,774.8 198.1,776.4 203.0,777.6 207.9,762.0 212.8,760.8 217.7,766.8 222.6,759.2 227.5,750.1 232.5,757.7 237.4,753.3 242.3,745.3 247.2,733.0 252.1,732.6 257.0,724.2 261.9,719.8 266.8,741.7 271.7,733.4 276.6,738.5 281.5,733.4 286.4,741.7 291.3,740.1 296.2,745.7 301.1,747.3 306.0,737.7 310.9,733.7 315.8,714.2 320.7,732.6 325.6,727.4 330.5,740.1 335.4,736.5 340.3,722.6 345.2,708.2 350.1,718.6 355.1,710.2 360.0,701.9 364.9,713.8 369.8,717.0 374.7,719.0 379.6,723.4 384.5,718.6 389.4,717.0 394.3,710.6 399.2,728.2 404.1,733.7 409.0,722.6 413.9,725.0 418.8,715.4 423.7,699.5 428.6,676.4 433.5,608.2 438.4,603.9 443.3,605.5 448.2,605.5 453.1,620.6 458.0,649.7 462.9,691.9 467.8,692.7 472.7,693.5 477.7,698.7 482.6,697.1 487.5,701.5 492.4,699.1 497.3,697.9 502.2,707.5 507.1,717.8 512.0,724.2 516.9,733.0 521.8,733.0 526.7,729.0 531.6,729.8 536.5,720.6 541.4,711.4 546.3,725.0 551.2,714.6 556.1,699.9 561.0,649.3 565.9,565.6 570.8,562.4 575.7,660.4 580.6,673.6 585.5,612.6 590.4,649.3 595.3,664.4 600.3,695.9 605.2,691.5 610.1,695.9 615.0,707.5 619.9,705.9 624.8,703.5 629.7,691.5 634.6,687.1 639.5,705.1 644.4,713.0 649.3,703.5 654.2,699.1 659.1,701.9 664.0,703.5 668.9,702.3 673.8,707.5 678.7,704.7 683.6,706.3 688.5,708.6 693.4,711.8 698.3,713.0 703.2,721.4 708.1,726.6 713.0,724.2 717.9,729.4 722.9,725.0 727.8,730.6 732.7,738.1 737.6,736.5 742.5,736.5 747.4,736.9 752.3,730.6 757.2,733.4 762.1,736.9 767.0,734.5 771.9,733.4 776.8,738.5 781.7,742.1 786.6,732.6 791.5,728.6 796.4,732.2 801.3,726.6 806.2,727.4 811.1,723.8 816.0,727.4 820.9,731.4 825.8,729.4 830.7,723.4 835.6,722.6 840.5,723.4 845.5,725.0 850.4,727.0 855.3,736.1 860.2,745.3 865.1,750.5 870.0,752.5 874.9,753.3 879.8,756.9 884.7,759.2 889.6,755.3 894.5,756.1 899.4,758.5 904.3,755.7 909.2,756.1 914.1,754.9 919.0,750.5 923.9,750.9 928.8,753.7 933.7,754.5 938.6,753.3 943.5,757.7 948.4,760.0 953.3,756.9" fill="none" stroke="#0E4A7A" stroke-width="2.7" stroke-linejoin="round" stroke-linecap="round" />
<polyline points="654.2,797.9 659.1,796.3 664.0,794.3 668.9,791.1 673.8,785.9 678.7,784.3 683.6,784.0 688.5,779.6 693.4,776.0 698.3,772.8 703.2,767.2 708.1,773.2 713.0,770.0 717.9,770.4 722.9,772.4 727.8,769.2 732.7,766.0 737.6,762.4 742.5,773.2 747.4,771.6 752.3,761.2 757.2,762.8 762.1,758.1 767.0,752.1 771.9,750.1 776.8,744.9 781.7,748.9 786.6,748.9 791.5,752.1 796.4,756.9 801.3,751.3 806.2,750.5 811.1,746.5 816.0,749.7 820.9,754.1 825.8,761.2 830.7,762.4 835.6,766.4 840.5,763.6 845.5,762.8 850.4,770.0 855.3,771.2 860.2,772.4 865.1,773.2 870.0,776.0 874.9,778.8 879.8,781.6 884.7,784.0 889.6,785.9 894.5,782.8 899.4,785.9 904.3,787.9 909.2,791.9 914.1,793.5 919.0,792.3 923.9,790.7 928.8,791.1 933.7,792.3 938.6,792.7 943.5,793.5 948.4,795.5 953.3,798.7" fill="none" stroke="#FBB1B1" stroke-width="2.7" stroke-linejoin="round" stroke-linecap="round" />
<polyline points="654.2,808.7 659.1,808.3 664.0,807.9 668.9,806.7 673.8,805.9 678.7,805.9 683.6,806.7 688.5,807.5 693.4,807.5 698.3,806.7 703.2,805.5 708.1,803.5 713.0,801.5 717.9,805.1 722.9,805.9 727.8,803.5 732.7,803.9 737.6,802.3 742.5,801.1 747.4,799.5 752.3,795.9 757.2,794.3 762.1,791.9 767.0,786.7 771.9,785.9 776.8,781.2 781.7,777.2 786.6,774.4 791.5,772.4 796.4,773.6 801.3,766.0 806.2,760.8 811.1,756.9 816.0,754.5 820.9,754.9 825.8,755.3 830.7,751.3 835.6,753.3 840.5,752.9 845.5,747.3 850.4,746.5 855.3,740.5 860.2,736.1 865.1,731.8 870.0,726.2 874.9,721.4 879.8,718.6 884.7,720.6 889.6,711.4 894.5,704.7 899.4,706.3 904.3,699.9 909.2,693.5 914.1,688.7 919.0,674.4 923.9,678.0 928.8,681.6 933.7,683.5 938.6,680.4 943.5,664.8 948.4,661.6 953.3,672.8" fill="none" stroke="#FF0000" stroke-width="3.0" stroke-linejoin="round" stroke-linecap="round" />
<text x="93.3" y="826.4" font-size="13" fill="#595959" text-anchor="end" font-family="'Liberation Sans', 'Noto Sans CJK SC', sans-serif" font-weight="normal" >0%</text>
<text x="93.3" y="786.6" font-size="13" fill="#595959" text-anchor="end" font-family="'Liberation Sans', 'Noto Sans CJK SC', sans-serif" font-weight="normal" >5%</text>
<text x="93.3" y="746.7" font-size="13" fill="#595959" text-anchor="end" font-family="'Liberation Sans', 'Noto Sans CJK SC', sans-serif" font-weight="normal" >10%</text>
<text x="93.3" y="706.9" font-size="13" fill="#595959" text-anchor="end" font-family="'Liberation Sans', 'Noto Sans CJK SC', sans-serif" font-weight="normal" >15%</text>
<text x="93.3" y="667.0" font-size="13" fill="#595959" text-anchor="end" font-family="'Liberation Sans', 'Noto Sans CJK SC', sans-serif" font-weight="normal" >20%</text>
<text x="93.3" y="627.2" font-size="13" fill="#595959" text-anchor="end" font-family="'Liberation Sans', 'Noto Sans CJK SC', sans-serif" font-weight="normal" >25%</text>
<text x="93.3" y="587.3" font-size="13" fill="#595959" text-anchor="end" font-family="'Liberation Sans', 'Noto Sans CJK SC', sans-serif" font-weight="normal" >30%</text>
<text x="93.3" y="547.5" font-size="13" fill="#595959" text-anchor="end" font-family="'Liberation Sans', 'Noto Sans CJK SC', sans-serif" font-weight="normal" >35%</text>
<text x="980.0" y="826.4" font-size="13" fill="#595959" text-anchor="start" font-family="'Liberation Sans', 'Noto Sans CJK SC', sans-serif" font-weight="normal" >-50.0%</text>
<text x="980.0" y="798.5" font-size="13" fill="#595959" text-anchor="start" font-family="'Liberation Sans', 'Noto Sans CJK SC', sans-serif" font-weight="normal" >-40.0%</text>
<text x="980.0" y="770.6" font-size="13" fill="#595959" text-anchor="start" font-family="'Liberation Sans', 'Noto Sans CJK SC', sans-serif" font-weight="normal" >-30.0%</text>
<text x="980.0" y="742.7" font-size="13" fill="#595959" text-anchor="start" font-family="'Liberation Sans', 'Noto Sans CJK SC', sans-serif" font-weight="normal" >-20.0%</text>
<text x="980.0" y="714.8" font-size="13" fill="#595959" text-anchor="start" font-family="'Liberation Sans', 'Noto Sans CJK SC', sans-serif" font-weight="normal" >-10.0%</text>
<text x="980.0" y="687.0" font-size="13" fill="#595959" text-anchor="start" font-family="'Liberation Sans', 'Noto Sans CJK SC', sans-serif" font-weight="normal" >0.0%</text>
<text x="980.0" y="659.1" font-size="13" fill="#595959" text-anchor="start" font-family="'Liberation Sans', 'Noto Sans CJK SC', sans-serif" font-weight="normal" >10.0%</text>
<text x="980.0" y="631.2" font-size="13" fill="#595959" text-anchor="start" font-family="'Liberation Sans', 'Noto Sans CJK SC', sans-serif" font-weight="normal" >20.0%</text>
<text x="980.0" y="603.3" font-size="13" fill="#595959" text-anchor="start" font-family="'Liberation Sans', 'Noto Sans CJK SC', sans-serif" font-weight="normal" >30.0%</text>
<text x="980.0" y="575.4" font-size="13" fill="#595959" text-anchor="start" font-family="'Liberation Sans', 'Noto Sans CJK SC', sans-serif" font-weight="normal" >40.0%</text>
<text x="980.0" y="547.5" font-size="13" fill="#595959" text-anchor="start" font-family="'Liberation Sans', 'Noto Sans CJK SC', sans-serif" font-weight="normal" >50.0%</text>
<text x="109.9" y="847.3" font-size="13.5" fill="#595959" text-anchor="middle" font-family="'Liberation Sans', 'Noto Sans CJK SC', sans-serif" font-weight="normal" >1850</text>
<text x="158.9" y="847.3" font-size="13.5" fill="#595959" text-anchor="middle" font-family="'Liberation Sans', 'Noto Sans CJK SC', sans-serif" font-weight="normal" >1860</text>
<text x="207.9" y="847.3" font-size="13.5" fill="#595959" text-anchor="middle" font-family="'Liberation Sans', 'Noto Sans CJK SC', sans-serif" font-weight="normal" >1870</text>
<text x="257.0" y="847.3" font-size="13.5" fill="#595959" text-anchor="middle" font-family="'Liberation Sans', 'Noto Sans CJK SC', sans-serif" font-weight="normal" >1880</text>
<text x="306.0" y="847.3" font-size="13.5" fill="#595959" text-anchor="middle" font-family="'Liberation Sans', 'Noto Sans CJK SC', sans-serif" font-weight="normal" >1890</text>
<text x="355.1" y="847.3" font-size="13.5" fill="#595959" text-anchor="middle" font-family="'Liberation Sans', 'Noto Sans CJK SC', sans-serif" font-weight="normal" >1900</text>
<text x="404.1" y="847.3" font-size="13.5" fill="#595959" text-anchor="middle" font-family="'Liberation Sans', 'Noto Sans CJK SC', sans-serif" font-weight="normal" >1910</text>
<text x="453.1" y="847.3" font-size="13.5" fill="#595959" text-anchor="middle" font-family="'Liberation Sans', 'Noto Sans CJK SC', sans-serif" font-weight="normal" >1920</text>
<text x="502.2" y="847.3" font-size="13.5" fill="#595959" text-anchor="middle" font-family="'Liberation Sans', 'Noto Sans CJK SC', sans-serif" font-weight="normal" >1930</text>
<text x="551.2" y="847.3" font-size="13.5" fill="#595959" text-anchor="middle" font-family="'Liberation Sans', 'Noto Sans CJK SC', sans-serif" font-weight="normal" >1940</text>
<text x="600.3" y="847.3" font-size="13.5" fill="#595959" text-anchor="middle" font-family="'Liberation Sans', 'Noto Sans CJK SC', sans-serif" font-weight="normal" >1950</text>
<text x="649.3" y="847.3" font-size="13.5" fill="#595959" text-anchor="middle" font-family="'Liberation Sans', 'Noto Sans CJK SC', sans-serif" font-weight="normal" >1960</text>
<text x="698.3" y="847.3" font-size="13.5" fill="#595959" text-anchor="middle" font-family="'Liberation Sans', 'Noto Sans CJK SC', sans-serif" font-weight="normal" >1970</text>
<text x="747.4" y="847.3" font-size="13.5" fill="#595959" text-anchor="middle" font-family="'Liberation Sans', 'Noto Sans CJK SC', sans-serif" font-weight="normal" >1980</text>
<text x="796.4" y="847.3" font-size="13.5" fill="#595959" text-anchor="middle" font-family="'Liberation Sans', 'Noto Sans CJK SC', sans-serif" font-weight="normal" >1990</text>
<text x="845.5" y="847.3" font-size="13.5" fill="#595959" text-anchor="middle" font-family="'Liberation Sans', 'Noto Sans CJK SC', sans-serif" font-weight="normal" >2000</text>
<text x="894.5" y="847.3" font-size="13.5" fill="#595959" text-anchor="middle" font-family="'Liberation Sans', 'Noto Sans CJK SC', sans-serif" font-weight="normal" >2010</text>
<text x="943.5" y="847.3" font-size="13.5" fill="#595959" text-anchor="middle" font-family="'Liberation Sans', 'Noto Sans CJK SC', sans-serif" font-weight="normal" >2020</text>
<text transform="translate(58.7,680.5) rotate(-90)" font-size="16" fill="#808080" text-anchor="middle" font-family="'Liberation Sans', 'Noto Serif CJK SC', serif" >占世界贸易份额<tspan font-size="14.5" font-family="Liberation Sans, sans-serif"> %</tspan></text>
<text transform="translate(1042.6,681.8) rotate(-90)" font-size="16" fill="#808080" text-anchor="middle" font-family="'Liberation Sans', 'Noto Serif CJK SC', serif" >全球贸易总额：同比增速<tspan font-size="14.5" font-family="Liberation Sans, sans-serif"> %</tspan></text>
<rect x="85.5" y="481" width="30" height="9.5" fill="#6F97B8" fill-opacity="0.52" stroke="#7EA0BD" stroke-width="1"/>
<text x="119.0" y="491.3" font-size="16" fill="#595959" text-anchor="start" font-family="'Liberation Sans', 'Noto Serif CJK SC', serif" font-weight="normal" >全球商品贸易总值：同比增速（右轴）</text>
<line x1="395" x2="424" y1="485.5" y2="485.5" stroke="#00B0F0" stroke-width="2.7" stroke-linecap="round"/>
<text x="428.0" y="491.3" font-size="16" fill="#595959" text-anchor="start" font-family="'Liberation Sans', 'Noto Serif CJK SC', serif" font-weight="normal" >英国：商品贸易出口：占世界份额</text>
<line x1="704.5" x2="733" y1="485.5" y2="485.5" stroke="#0E4A7A" stroke-width="2.7" stroke-linecap="round"/>
<text x="737.0" y="491.3" font-size="16" fill="#595959" text-anchor="start" font-family="'Liberation Sans', 'Noto Serif CJK SC', serif" font-weight="normal" >美国：商品贸易出口：占世界份额</text>
<line x1="86" x2="114.5" y1="514.3" y2="514.3" stroke="#FBB1B1" stroke-width="2.7" stroke-linecap="round"/>
<text x="119.0" y="520.0" font-size="16" fill="#595959" text-anchor="start" font-family="'Liberation Sans', 'Noto Serif CJK SC', serif" font-weight="normal" >日本：商品贸易出口：占世界份额</text>
<line x1="395" x2="424" y1="514.3" y2="514.3" stroke="#FF0000" stroke-width="3" stroke-linecap="round"/>
<text x="428.0" y="520.0" font-size="16" fill="#595959" text-anchor="start" font-family="'Liberation Sans', 'Noto Serif CJK SC', serif" font-weight="normal" >中国：商品贸易出口：占世界份额</text>
<text x="90" y="574.6" font-size="15.2" fill="#00B0F0" font-family="'Liberation Sans', 'Noto Serif CJK SC', serif" letter-spacing="0.7">英国，工业革命，约<tspan font-weight="bold" font-family="'Liberation Sans', 'Noto Sans CJK SC', sans-serif" font-size="14" letter-spacing="0">20-25%</tspan></text>
<line x1="186.3" y1="588.3" x2="178" y2="620" stroke="#1a1a1a" stroke-width="1.1"/>
<text x="331.5" y="565.5" font-size="15.2" fill="#1E73BE" font-family="'Liberation Sans', 'Noto Serif CJK SC', serif" letter-spacing="0.7">美国，一战繁荣，约<tspan font-weight="bold" font-family="'Liberation Sans', 'Noto Sans CJK SC', sans-serif" font-size="14" letter-spacing="0">25%</tspan></text>
<line x1="418" y1="577" x2="438.5" y2="603.5" stroke="#1a1a1a" stroke-width="1.1"/>
<text x="495.8" y="541.1" font-size="15.2" fill="#1E73BE" font-family="'Liberation Sans', 'Noto Serif CJK SC', serif" letter-spacing="0.7">美国，二战繁荣，约<tspan font-weight="bold" font-family="'Liberation Sans', 'Noto Sans CJK SC', sans-serif" font-size="14" letter-spacing="0">30%</tspan></text>
<line x1="581" y1="552.5" x2="571.4" y2="562.4" stroke="#1a1a1a" stroke-width="1.1"/>
<text x="402" y="800.4" font-size="15.2" fill="#00B0F0" font-family="'Liberation Sans', 'Noto Serif CJK SC', serif" letter-spacing="0.7">英国，大萧条，约<tspan font-weight="bold" font-family="'Liberation Sans', 'Noto Sans CJK SC', sans-serif" font-size="14" letter-spacing="0">12%</tspan></text>
<line x1="402" x2="557.1" y1="802.9" y2="802.9" stroke="#00B0F0" stroke-width="1"/>
<text x="402" y="820.4" font-size="15.2" fill="#1E73BE" font-family="'Liberation Sans', 'Noto Serif CJK SC', serif" letter-spacing="0.7">美国，大萧条，约<tspan font-weight="bold" font-family="'Liberation Sans', 'Noto Sans CJK SC', sans-serif" font-size="14" letter-spacing="0">12%</tspan></text>
<line x1="402" x2="557.1" y1="822.9" y2="822.9" stroke="#1E73BE" stroke-width="1"/>
<line x1="479.5" y1="782.3" x2="512.1" y2="723.4" stroke="#1a1a1a" stroke-width="1.1"/>
<text x="662.5" y="616.1" font-size="15.2" fill="#1E73BE" font-family="'Liberation Sans', 'Noto Serif CJK SC', serif" letter-spacing="0.7">美国，广场协议，约<tspan font-weight="bold" font-family="'Liberation Sans', 'Noto Sans CJK SC', sans-serif" font-size="14" letter-spacing="0">10%</tspan></text>
<line x1="662.5" x2="835" y1="618.6" y2="618.6" stroke="#1E73BE" stroke-width="1"/>
<text x="662.5" y="637.1" font-size="15.2" fill="#F98585" font-family="'Liberation Sans', 'Noto Serif CJK SC', serif" letter-spacing="0.7">日本，广场协议，约<tspan font-weight="bold" font-family="'Liberation Sans', 'Noto Sans CJK SC', sans-serif" font-size="14" letter-spacing="0">10%</tspan></text>
<line x1="662.5" x2="835" y1="639.6" y2="639.6" stroke="#F98585" stroke-width="1"/>
<line x1="748.7" y1="645.3" x2="776.5" y2="743.8" stroke="#1a1a1a" stroke-width="1.1"/>
<text x="776.5" y="563.1" font-size="15.2" fill="#FF0000" font-family="'Liberation Sans', 'Noto Serif CJK SC', serif" font-weight="bold" letter-spacing="0.95">中国，<tspan font-family="'Liberation Sans', 'Noto Sans CJK SC', sans-serif" font-size="14" letter-spacing="0">2013</tspan>年至今，约<tspan font-family="'Liberation Sans', 'Noto Sans CJK SC', sans-serif" font-size="14" letter-spacing="0">15-20%</tspan></text>
<line x1="880.4" y1="571.5" x2="947.6" y2="661.1" stroke="#1a1a1a" stroke-width="1.1"/>
<g fill="#9a9a9a" fill-opacity="0.85">
<ellipse cx="583.3" cy="855.6" rx="14.2" ry="11.4"/><path d="M574,863 l-2,7 7,-4z"/>
<ellipse cx="598" cy="865.5" rx="12.3" ry="10" stroke="#fff" stroke-width="1.4"/><path d="M604,873 l2,5 -7,-3z"/>
</g>
<g fill="#fff"><circle cx="578.5" cy="852" r="1.7"/><circle cx="588" cy="852" r="1.7"/><circle cx="594" cy="862.5" r="1.5"/><circle cx="602" cy="862.5" r="1.5"/></g>
<g font-size="30" fill="#9a9a9a" fill-opacity="0.8" font-family="'Noto Sans CJK SC', sans-serif" font-weight="400"><text x="618" y="873" textLength="93" lengthAdjust="spacing">公众号</text><text x="724" y="869" text-anchor="middle" font-size="19">·</text><text x="743" y="873" textLength="303" lengthAdjust="spacing">中信建投首席经济学家</text></g>
</svg></body></html>
